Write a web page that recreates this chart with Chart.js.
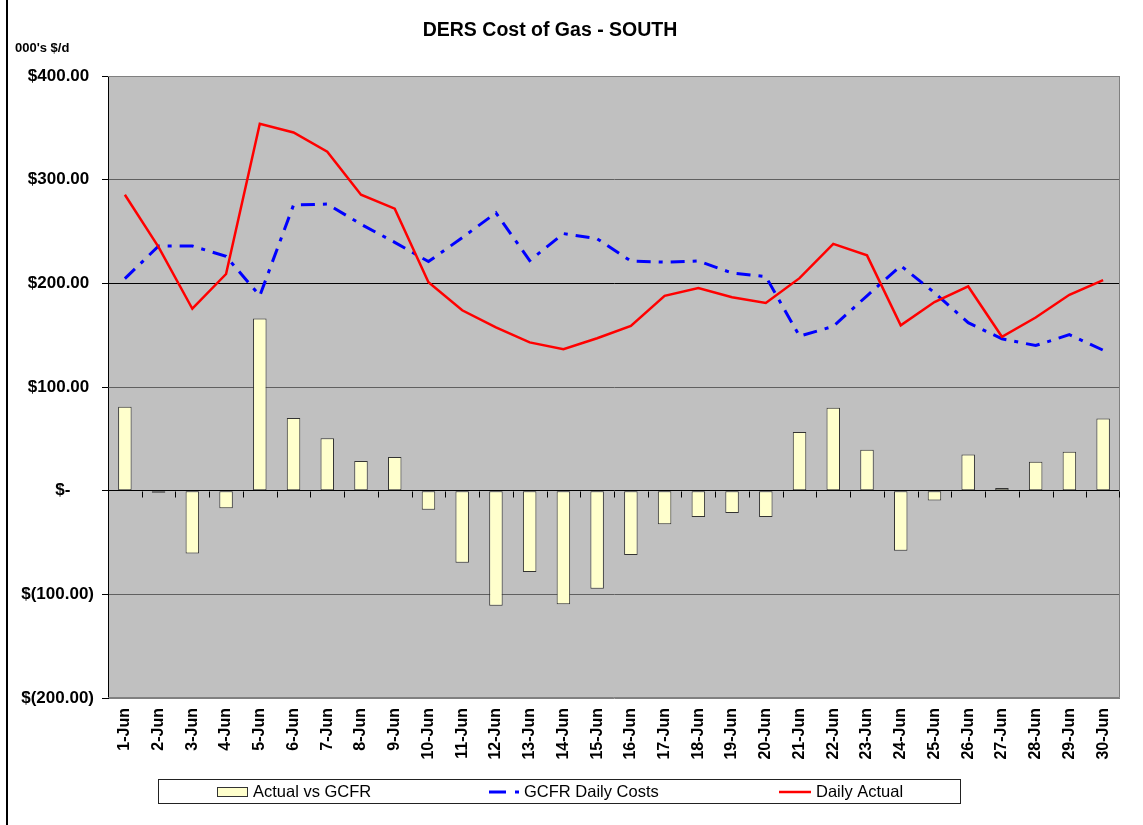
<!DOCTYPE html>
<html>
<head>
<meta charset="utf-8">
<title>DERS Cost of Gas - SOUTH</title>
<script src="https://cdn.jsdelivr.net/npm/chart.js@4.4.1/dist/chart.umd.min.js"></script>
<style>
  html, body { margin: 0; padding: 0; background: #fff; }
  #wrap { width: 1143px; height: 825px; position: relative; }
</style>
</head>
<body>
<div id="wrap"><canvas id="gasChart"></canvas></div>
<script>
// days of June
var days = ['1-Jun', '2-Jun', '3-Jun', '4-Jun', '5-Jun', '6-Jun', '7-Jun', '8-Jun', '9-Jun', '10-Jun',
            '11-Jun', '12-Jun', '13-Jun', '14-Jun', '15-Jun', '16-Jun', '17-Jun', '18-Jun', '19-Jun', '20-Jun',
            '21-Jun', '22-Jun', '23-Jun', '24-Jun', '25-Jun', '26-Jun', '27-Jun', '28-Jun', '29-Jun', '30-Jun'];

// 000's $/d
var actualVsGcfr = [81, -2, -60.5, -17, 166, 70, 50.5, 28.5, 32.5, -18.5,
                    -69.5, -111, -78.5, -109.5, -94.5, -62, -32.5, -25.5, -21.5, -25.5,
                    56.5, 80, 39.5, -58, -9.5, 35, 2.5, 28, 37.5, 69.5];
var gcfrDailyCosts = [204.5, 236, 236, 226, 188, 275.5, 276.5, 257, 239.5, 221,
                      244, 268, 222, 248, 243, 221.5, 220.5, 221.5, 210, 206.5,
                      149, 158.5, 188, 217, 191, 162, 146.5, 140, 150.5, 135.5];
var dailyActual = [285.5, 235, 175.5, 209, 354, 345.5, 327, 285.5, 272, 201,
                   174, 157.5, 143, 136.5, 147, 159, 188, 195.5, 186.5, 181,
                   205, 238, 227, 159.5, 182, 197, 148.5, 167, 189, 203];

var yMin = -200, yMax = 400, yStep = 100;

var FONT = '"Liberation Sans", Arial, Helvetica, sans-serif';

function money(v) {
    if (v === 0) return '$-     ';
    if (v < 0) return '$(' + Math.abs(v).toFixed(2) + ')';
    return '$' + v.toFixed(2) + ' ';
}

// grey plot area, borders, zero-line ticks, titles and legend box
var excelLook = {
    id: 'excelLook',
    beforeDraw: function (chart) {
        var ctx = chart.ctx, a = chart.chartArea;
        ctx.save();
        ctx.fillStyle = '#c0c0c0';
        ctx.fillRect(a.left, a.top, a.right - a.left, a.bottom - a.top);
        ctx.restore();
    },
    beforeDatasetsDraw: function (chart) {
        var ctx = chart.ctx, a = chart.chartArea, xs = chart.scales.x, ys = chart.scales.y;
        ctx.save();
        ctx.strokeStyle = '#808080';
        ctx.lineWidth = 1;
        ctx.beginPath();
        ctx.moveTo(a.left, a.top + 0.5);
        ctx.lineTo(a.right - 0.5, a.top + 0.5);
        ctx.lineTo(a.right - 0.5, a.bottom - 0.5);
        ctx.lineTo(a.left, a.bottom - 0.5);
        ctx.stroke();

        // category ticks hanging from the zero line
        var y0 = Math.round(ys.getPixelForValue(0)) + 0.5;
        var half = (xs.getPixelForValue(1) - xs.getPixelForValue(0)) / 2;
        ctx.strokeStyle = '#000';
        ctx.beginPath();
        for (var i = 0; i <= days.length; i++) {
            var px = Math.min(Math.round(xs.getPixelForValue(i) - half), a.right - 1) + 0.5;
            ctx.moveTo(px, y0);
            ctx.lineTo(px, y0 + 6);
        }
        ctx.stroke();
        ctx.restore();
    },
    afterDraw: function (chart) {
        var ctx = chart.ctx, ds = chart.data.datasets;
        ctx.save();
        // left frame edge
        ctx.fillStyle = '#000';
        ctx.fillRect(6, 0, 2, 825);

        // titles
        ctx.fillStyle = '#000';
        ctx.textBaseline = 'middle';
        ctx.textAlign = 'center';
        ctx.font = 'bold 19.5px ' + FONT;
        ctx.fillText('DERS Cost of Gas - SOUTH', 550, 31);
        ctx.textAlign = 'left';
        ctx.font = 'bold 13px ' + FONT;
        ctx.fillText("000's $/d", 15, 48);

        // legend
        ctx.strokeStyle = '#222';
        ctx.lineWidth = 1;
        ctx.strokeRect(158.5, 779.5, 802, 24);
        ctx.font = '16.5px ' + FONT;

        ctx.fillStyle = ds[0].backgroundColor;
        ctx.fillRect(217, 787, 30, 9);
        ctx.strokeStyle = ds[0].borderColor;
        ctx.strokeRect(217.5, 787.5, 30, 9);
        ctx.fillStyle = '#000';
        ctx.fillText(ds[0].label, 253, 792);

        ctx.strokeStyle = ds[1].borderColor;
        ctx.lineWidth = 3;
        ctx.setLineDash([17, 9, 4, 9]);
        ctx.beginPath();
        ctx.moveTo(489, 792);
        ctx.lineTo(521, 792);
        ctx.stroke();
        ctx.setLineDash([]);
        ctx.fillText(ds[1].label, 524, 792);

        ctx.strokeStyle = ds[2].borderColor;
        ctx.lineWidth = 2.5;
        ctx.beginPath();
        ctx.moveTo(779, 792);
        ctx.lineTo(811, 792);
        ctx.stroke();
        ctx.fillText(ds[2].label, 816, 792);
        ctx.restore();
    }
};

new Chart(document.getElementById('gasChart'), {
    type: 'bar',
    data: {
        labels: days,
        datasets: [{
            label: 'Actual vs GCFR',
            data: actualVsGcfr,
            backgroundColor: '#ffffcc',
            borderColor: '#333333',
            borderWidth: 1,
            borderSkipped: false,
            barPercentage: 0.4,
            categoryPercentage: 1,
            order: 2
        }, {
            type: 'line',
            label: 'GCFR Daily Costs',
            data: gcfrDailyCosts,
            borderColor: '#0000ff',
            borderWidth: 3,
            borderDash: [14, 8, 4, 8],
            pointRadius: 0,
            tension: 0,
            fill: false,
            order: 1
        }, {
            type: 'line',
            label: 'Daily Actual',
            data: dailyActual,
            borderColor: '#ff0000',
            borderWidth: 2.5,
            pointRadius: 0,
            tension: 0,
            fill: false,
            order: 0
        }]
    },
    options: {
        responsive: true,
        maintainAspectRatio: false,
        animation: false,
        layout: { padding: { left: 0, right: 23, top: 76, bottom: 0 } },
        plugins: {
            legend: { display: false },
            title: { display: false },
            tooltip: { enabled: false }
        },
        scales: {
            x: {
                offset: true,
                grid: { display: false, drawTicks: false },
                border: { display: false },
                ticks: {
                    autoSkip: false,
                    minRotation: 90,
                    maxRotation: 90,
                    padding: 10,
                    color: '#000',
                    font: { family: FONT, size: 16, weight: 'bold' }
                },
                afterFit: function (scale) { scale.height = 127; }
            },
            y: {
                min: yMin,
                max: yMax,
                ticks: {
                    stepSize: yStep,
                    padding: 8,
                    color: '#000',
                    font: { family: FONT, size: 17, weight: 'bold' },
                    callback: function (v) { return money(v); }
                },
                grid: {
                    tickLength: 6,
                    tickColor: '#000',
                    color: function (c) {
                        var v = c.tick.value;
                        if (v === 0 || v === 200) return '#000';
                        if (v === yMax || v === yMin) return '#808080';
                        return '#606060';
                    }
                },
                border: { color: '#000', width: 1 },
                afterFit: function (scale) { scale.width = 108; }
            }
        }
    },
    plugins: [excelLook]
});
</script>
</body>
</html>
